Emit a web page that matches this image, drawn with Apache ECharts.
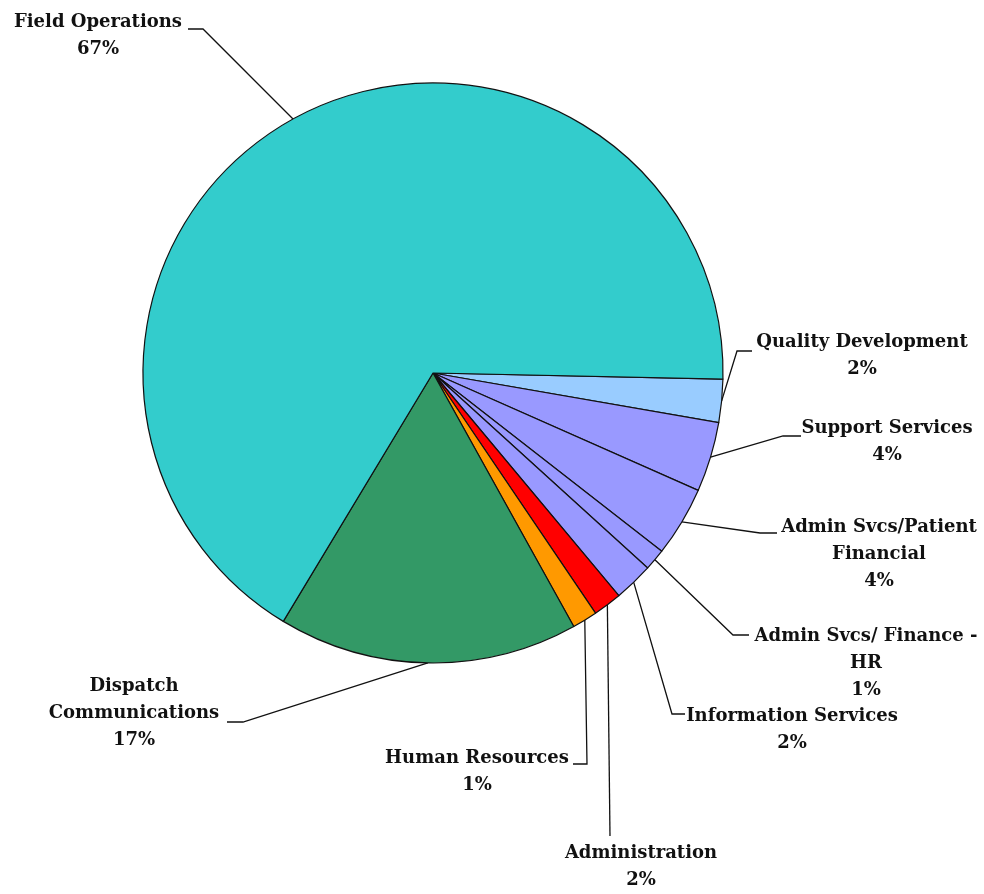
<!DOCTYPE html>
<html>
<head>
<meta charset="utf-8">
<script src="https://cdn.jsdelivr.net/npm/echarts@6/dist/echarts.min.js"></script>
<style>
  html, body { margin: 0; padding: 0; background: #ffffff; }
  #main { width: 984px; height: 894px; }
</style>
</head>
<body>
<div id="main"></div>
<script>
// slices, clockwise from 3 o'clock
var names = [
  "Quality Development",
  "Support Services",
  "Admin Svcs/Patient\nFinancial",
  "Admin Svcs/ Finance -\nHR",
  "Information Services",
  "Administration",
  "Human Resources",
  "Dispatch\nCommunications",
  "Field Operations"
];
var shares = [2.4, 3.9, 3.9, 1.2, 2.2, 1.6, 1.4, 16.7, 66.7];
var colors = ["#99ccff", "#9999ff", "#9999ff", "#9999ff", "#9999ff", "#ff0000", "#ff9900", "#339966", "#33cccc"];

// label placement: [center x, middle of first line y]
var labelSpots = [
  [862, 342], [887, 428], [879, 527], [866, 636], [792, 716],
  [641, 853], [477, 758], [134, 686], [98, 22]
];
// leader line bends after the rim point
var leaderBends = [
  [[737, 351], [752, 351]],
  [[783, 436], [801, 436]],
  [[760, 533], [777, 533]],
  [[733, 635], [749, 635]],
  [[672, 714], [685, 714]],
  [[610, 836]],
  [[587, 764], [573, 764]],
  [[243, 722], [227, 722]],
  [[203, 29], [188, 29]]
];

var chartDom = document.getElementById("main");
var myChart = echarts.init(chartDom);
var lineH = 27;

var option = {
  backgroundColor: "#ffffff",
  animation: false,
  series: [
    {
      type: "pie",
      center: [433, 373],
      radius: 290,
      startAngle: 358.8,
      clockwise: true,
      avoidLabelOverlap: false,
      data: names.map(function (n, i) {
        return { name: n, value: shares[i], itemStyle: { color: colors[i] } };
      }),
      itemStyle: { borderColor: "#111111", borderWidth: 1.2 },
      label: {
        show: true,
        position: "outside",
        fontFamily: "DejaVu Serif",
        fontWeight: "bold",
        fontSize: 18,
        lineHeight: lineH,
        color: "#111111",
        formatter: function (p) {
          return p.name + "\n" + Math.round(p.percent) + "%";
        }
      },
      labelLine: {
        show: true,
        smooth: false,
        lineStyle: { color: "#111111", width: 1.3 }
      },
      labelLayout: function (params) {
        var i = params.dataIndex;
        var spot = labelSpots[i];
        var start = params.labelLinePoints ? params.labelLinePoints[0] : null;
        var pts = start ? [[start[0], start[1]]].concat(leaderBends[i]) : undefined;
        return {
          x: spot[0],
          y: spot[1] - lineH / 2,
          align: "center",
          verticalAlign: "top",
          labelLinePoints: pts
        };
      },
      emphasis: { disabled: true }
    }
  ]
};

option && myChart.setOption(option);
</script>
</body>
</html>
